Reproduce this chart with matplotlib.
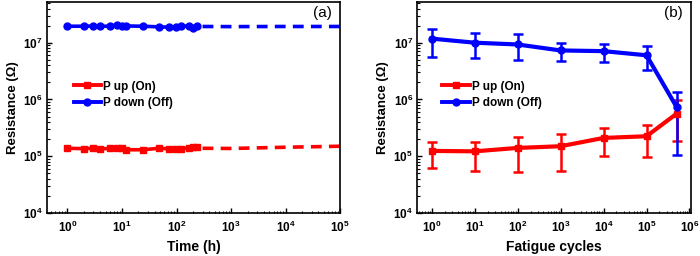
import matplotlib
matplotlib.use("Agg")
import matplotlib.pyplot as plt
from matplotlib.ticker import LogLocator, NullFormatter
from matplotlib.lines import Line2D

plt.rcParams['font.family'] = ['Liberation Sans', 'DejaVu Sans']
plt.rcParams['mathtext.fontset'] = 'custom'
plt.rcParams['mathtext.rm'] = 'Liberation Sans:bold'
plt.rcParams['mathtext.bf'] = 'Liberation Sans:bold'

# ---- data: panel (a) retention ----
time_h = [1, 2, 3, 4, 6, 8, 10, 12, 24, 48, 72, 96, 120, 168, 200, 240]
on_time = [1.38e5, 1.36e5, 1.38e5, 1.35e5, 1.37e5, 1.42e5, 1.40e5, 1.30e5,
           1.30e5, 1.38e5, 1.35e5, 1.36e5, 1.33e5, 1.42e5, 1.48e5, 1.46e5]
off_time = [1.95e7, 1.95e7, 1.97e7, 1.95e7, 1.95e7, 2.05e7, 2.0e7, 1.97e7,
            1.95e7, 1.9e7, 1.88e7, 1.9e7, 1.95e7, 1.97e7, 1.85e7, 1.95e7]
extrap_time = [300, 1e3, 1e4, 1e5]
on_extrap = [1.38e5, 1.37e5, 1.44e5, 1.5e5]
off_extrap = [1.93e7, 1.92e7, 1.93e7, 1.93e7]

# ---- data: panel (b) fatigue ----
cycles = [1, 10, 100, 1e3, 1e4, 1e5, 5e5]
on_cyc = [1.24e5, 1.22e5, 1.4e5, 1.5e5, 2.1e5, 2.25e5, 5.6e5]
on_hi = [1.8e5, 1.8e5, 2.2e5, 2.5e5, 3.2e5, 3.6e5, 9.8e5]
on_lo = [6.3e4, 5.6e4, 5.3e4, 5.4e4, 1.0e5, 9.7e4, 1.85e5]
off_cyc = [1.18e7, 1.0e7, 9.3e6, 7.3e6, 7.1e6, 6.0e6, 7.4e5]
off_hi = [1.76e7, 1.5e7, 1.4e7, 1.0e7, 9.6e6, 8.6e6, 1.35e6]
off_lo = [5.7e6, 5.4e6, 4.9e6, 4.8e6, 4.5e6, 3.35e6, 1.05e5]

labels = ['P up (On)', 'P down (Off)']
RED = '#ff0000'
BLUE = '#0000ff'

fig = plt.figure(figsize=(7.0, 2.56), dpi=100)
axa = fig.add_axes([0.067, 0.168, 0.419, 0.824])
axb = fig.add_axes([0.596, 0.168, 0.391, 0.824])


def style(ax, xmin, xmax, xlabel, tag):
    ax.set_xscale('log')
    ax.set_yscale('log')
    ax.set_xlim(xmin, xmax)
    ax.set_ylim(1e4, 5.2e7)
    for s in ax.spines.values():
        s.set_linewidth(1.2)
    ax.xaxis.set_major_locator(LogLocator(base=10, numticks=20))
    ax.xaxis.set_minor_locator(LogLocator(base=10, subs=range(2, 10), numticks=20))
    ax.yaxis.set_major_locator(LogLocator(base=10, numticks=20))
    ax.yaxis.set_minor_locator(LogLocator(base=10, subs=range(2, 10), numticks=20))
    ax.xaxis.set_minor_formatter(NullFormatter())
    ax.yaxis.set_minor_formatter(NullFormatter())
    ax.tick_params(which='major', direction='in', length=3.5, width=1,
                   labelsize=8.5, pad=3, top=False, right=False)
    ax.tick_params(which='minor', direction='in', length=1.8, width=0.8,
                   top=False, right=False)
    ax.tick_params(axis='x', which='major', pad=5)
    ax.set_xlabel(xlabel, fontsize=10, fontweight='bold', labelpad=3.5)
    ax.set_ylabel('Resistance (\u03a9)', fontsize=9.5, fontweight='bold', labelpad=3)
    ax.text(0.97, 0.95, tag, transform=ax.transAxes, ha='right', va='center',
            fontsize=11)


style(axa, 0.42, 1e5, 'Time (h)', '(a)')
style(axb, 0.46, 1.08e6, 'Fatigue cycles', '(b)')

# panel (a)
axa.plot(time_h, on_time, color=RED, lw=2.6, marker='s', ms=5)
axa.plot(time_h, off_time, color=BLUE, lw=2.6, marker='o', ms=5)
axa.plot(extrap_time, on_extrap, color=RED, lw=2.6, ls=(0, (3, 2)))
axa.plot(extrap_time, off_extrap, color=BLUE, lw=2.6, ls=(0, (3, 2)))

# panel (b)
on_err = [[v - l for v, l in zip(on_cyc, on_lo)], [h - v for v, h in zip(on_cyc, on_hi)]]
off_err = [[v - l for v, l in zip(off_cyc, off_lo)], [h - v for v, h in zip(off_cyc, off_hi)]]
axb.errorbar(cycles, on_cyc, yerr=on_err, color=RED, lw=3, marker='s', ms=4,
             elinewidth=1.8, capsize=3.5, capthick=1.8)
axb.errorbar(cycles, off_cyc, yerr=off_err, color=BLUE, lw=3, marker='o', ms=5,
             elinewidth=1.8, capsize=3.5, capthick=1.8)

handles = [Line2D([], [], color=RED, lw=2.8, marker='s', ms=5),
           Line2D([], [], color=BLUE, lw=2.8, marker='o', ms=5)]

for ax in (axa, axb):
    for lab in ax.get_xticklabels() + ax.get_yticklabels():
        lab.set_fontweight('bold')
    ax.legend(handles, labels, loc='upper left', bbox_to_anchor=(0.075, 0.65),
              frameon=False, prop={'size': 8.5, 'weight': 'bold'}, handlelength=2.3,
              handletextpad=0.2, labelspacing=0.35, borderaxespad=0, numpoints=1,
              markerfirst=True)

fig.savefig('out.png', dpi=100)
